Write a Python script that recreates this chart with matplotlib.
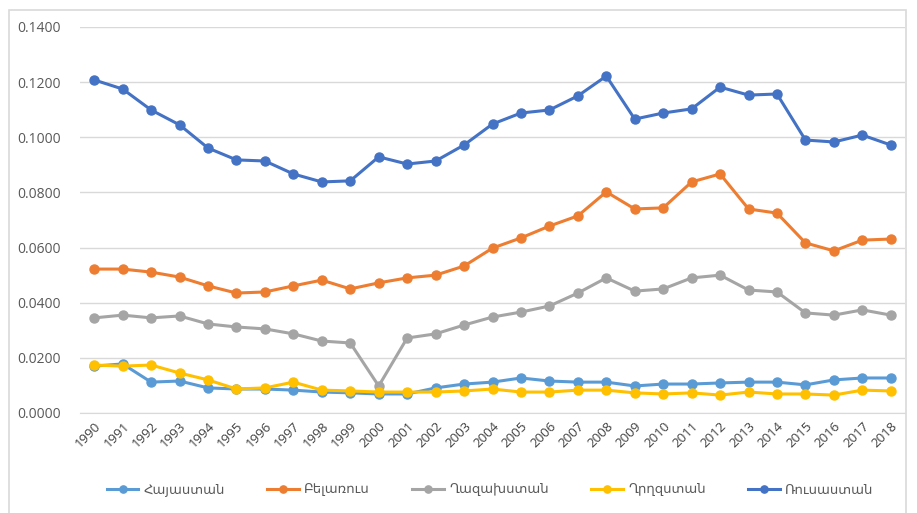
import matplotlib
matplotlib.use('Agg')
import matplotlib.pyplot as plt
from matplotlib.patches import Rectangle

years = list(range(1990, 2019))

armenia = [0.0170, 0.0178, 0.0112, 0.0116, 0.0091, 0.0087, 0.0087, 0.0083, 0.0076, 0.0073,
           0.0069, 0.0069, 0.0091, 0.0105, 0.0112, 0.0127, 0.0116, 0.0112, 0.0112, 0.0098,
           0.0105, 0.0105, 0.0109, 0.0112, 0.0112, 0.0102, 0.0120, 0.0127, 0.0127]
belarus = [0.0522, 0.0522, 0.0511, 0.0493, 0.0461, 0.0435, 0.0439, 0.0461, 0.0482, 0.0450,
           0.0472, 0.0490, 0.0500, 0.0533, 0.0598, 0.0635, 0.0678, 0.0715, 0.0802, 0.0740,
           0.0744, 0.0838, 0.0867, 0.0740, 0.0725, 0.0617, 0.0588, 0.0627, 0.0631]
kazakhstan = [0.0345, 0.0355, 0.0345, 0.0352, 0.0323, 0.0312, 0.0305, 0.0287, 0.0261, 0.0254,
              0.0098, 0.0272, 0.0287, 0.0319, 0.0348, 0.0366, 0.0388, 0.0435, 0.0490, 0.0442,
              0.0450, 0.0490, 0.0500, 0.0446, 0.0439, 0.0363, 0.0355, 0.0374, 0.0355]
kyrgyzstan = [0.0174, 0.0170, 0.0174, 0.0145, 0.0120, 0.0087, 0.0091, 0.0112, 0.0083, 0.0080,
              0.0076, 0.0076, 0.0076, 0.0080, 0.0087, 0.0076, 0.0076, 0.0083, 0.0083, 0.0073,
              0.0069, 0.0073, 0.0065, 0.0076, 0.0069, 0.0069, 0.0065, 0.0083, 0.0080]
russia = [0.1208, 0.1175, 0.1099, 0.1045, 0.0961, 0.0918, 0.0914, 0.0867, 0.0838, 0.0842,
          0.0929, 0.0903, 0.0914, 0.0972, 0.1048, 0.1088, 0.1099, 0.1150, 0.1222, 0.1066,
          0.1088, 0.1103, 0.1182, 0.1153, 0.1157, 0.0990, 0.0983, 0.1008, 0.0972]

names = ['Հայաստան', 'Բելառուս', 'Ղազախստան', 'Ղրղզստան', 'Ռուսաստան']
series = [armenia, belarus, kazakhstan, kyrgyzstan, russia]
colors = ['#5b9bd5', '#ed7d31', '#a5a5a5', '#ffc000', '#4472c4']

yticks = [0.0, 0.02, 0.04, 0.06, 0.08, 0.10, 0.12, 0.14]

plt.rcParams['font.family'] = ['Open Sans', 'DejaVu Sans']

fig = plt.figure(figsize=(9.17, 5.13), dpi=100)
# light chart frame like the spreadsheet export
fig.patches.append(Rectangle((9 / 917, -0.1), 897 / 917, 1.1 - 10 / 513,
                             transform=fig.transFigure, fill=False,
                             edgecolor='#d9d9d9', linewidth=1.2))

ax = fig.add_axes([80 / 917, 1 - 413 / 513, 825 / 917, 386 / 513])

for name, vals, c in zip(names, series, colors):
    ax.plot(years, vals, color=c, linewidth=2.2, marker='o', markersize=6.5, label=name)

ax.set_ylim(0, 0.14)
ax.set_xlim(1990 - 0.5, 2018 + 0.5)
ax.set_yticks(yticks)
ax.set_yticklabels(['%.4f' % v for v in yticks])
ax.set_xticks(years)
ax.set_xticklabels([str(y) for y in years], rotation=45, ha='right',
                   rotation_mode='anchor')
ax.tick_params(axis='y', length=0, labelsize=10, labelcolor='#595959', pad=14)
ax.tick_params(axis='x', length=0, labelsize=9.5, labelcolor='#404040', pad=5)
ax.grid(axis='y', color='#d9d9d9', linewidth=1)
ax.set_axisbelow(True)
for s in ['top', 'right', 'left']:
    ax.spines[s].set_visible(False)
ax.spines['bottom'].set_color('#d9d9d9')

leg = fig.legend(loc='center', bbox_to_anchor=(490 / 917, 1 - 490 / 513), ncol=5,
                 frameon=False, fontsize=9.5, handlelength=2.4, columnspacing=3.2,
                 handletextpad=0.4, markerscale=0.8)
for t in leg.get_texts():
    t.set_color('#595959')

fig.savefig('out.png', dpi=100)
